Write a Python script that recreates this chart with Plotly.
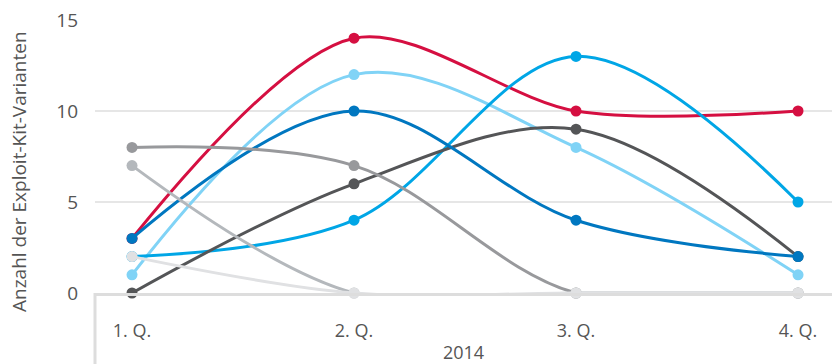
import plotly.graph_objects as go

quarters = ["1. Q.", "2. Q.", "3. Q.", "4. Q."]
year_label = "2014"
y_title = "Anzahl der Exploit-Kit-Varianten"

s_red = [3, 14, 10, 10]
s_lightblue = [1, 12, 8, 1]
s_cyan = [2, 4, 13, 5]
s_darkgray = [0, 6, 9, 2]
s_darkblue = [3, 10, 4, 2]
s_gray = [8, 7, 0, 0]
s_lightgray = [7, 0, 0, 0]
s_verylight = [2, 0, 0, 0]

series = [
    ("A", s_red, "#d50f41", 0.9),
    ("B", s_lightblue, "#80d3f6", 1.0),
    ("C", s_cyan, "#00a6e6", 1.0),
    ("D", s_darkgray, "#545557", 1.0),
    ("E", s_darkblue, "#0077c0", 1.0),
    ("F", s_gray, "#98999c", 1.0),
    ("G", s_lightgray, "#b4b8bc", 1.0),
    ("H", s_verylight, "#e0e1e3", 1.0),
]

fig = go.Figure()
for name, vals, col, sm in series:
    fig.add_trace(go.Scatter(
        x=quarters, y=vals, name=name, mode="lines+markers",
        line=dict(color=col, width=3, shape="spline", smoothing=sm),
        marker=dict(color=col, size=11),
        cliponaxis=False, showlegend=False,
    ))

W, H = 832, 364
ml, mr, mt, mb = 95, 0, 20, 71
ph = H - mt - mb
txt = "#555555"

fig.update_layout(
    width=W, height=H,
    margin=dict(l=ml, r=mr, t=mt, b=mb),
    paper_bgcolor="white", plot_bgcolor="white",
    font=dict(family="Open Sans", size=18, color=txt),
    xaxis=dict(
        type="category", categoryorder="array", categoryarray=quarters,
        range=[-0.1667, 3.153], showgrid=False, zeroline=False,
        showline=True, linecolor="#dddddd", linewidth=3,
        ticks="", ticklabelstandoff=19,
        tickfont=dict(size=18, color=txt),
        title=dict(text=year_label, standoff=9, font=dict(size=18, color=txt)),
    ),
    yaxis=dict(
        range=[0, 15], tickvals=[0, 5, 10, 15], showgrid=True,
        gridcolor="#e6e6e6", gridwidth=2, zeroline=False, showline=False,
        ticks="", ticklabelstandoff=16,
        tickfont=dict(size=19, color=txt),
    ),
    shapes=[dict(type="line", xref="paper", yref="paper", x0=0, x1=0,
                 y0=0, y1=-mb / ph, line=dict(color="#dddddd", width=3),
                 layer="below")],
    annotations=[dict(text=y_title, xref="paper", yref="paper",
                      x=-(ml - 19) / (W - ml - mr), y=(293 - 172) / ph,
                      textangle=-90, showarrow=False, xanchor="center",
                      yanchor="middle", font=dict(size=19, color=txt))],
)

fig.write_html("out.html")
